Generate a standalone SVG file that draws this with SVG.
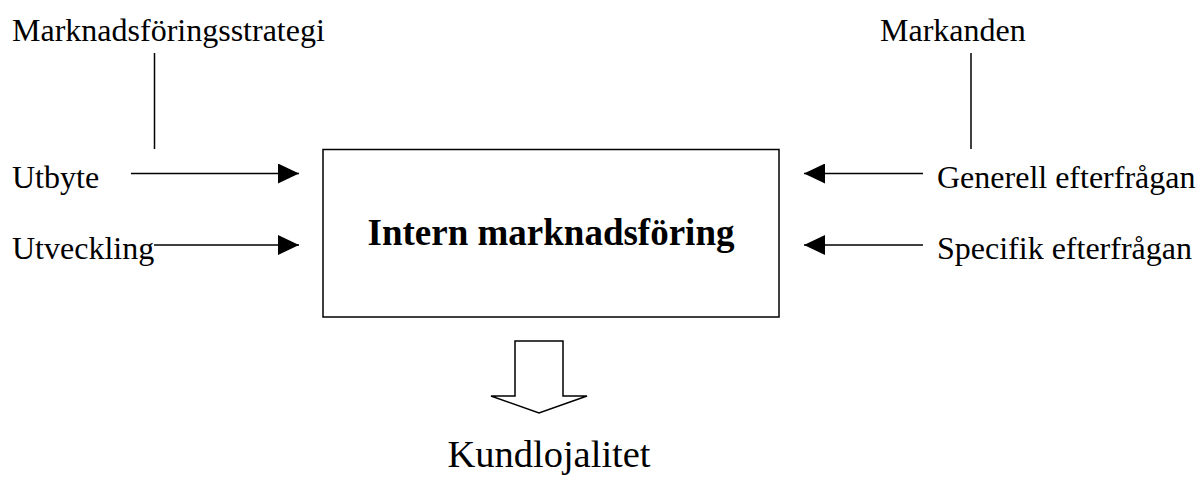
<svg xmlns="http://www.w3.org/2000/svg" width="1201" height="480" viewBox="0 0 1201 480">
<defs>
<marker id="ah" viewBox="0 0 21 20" refX="21" refY="10" markerWidth="21" markerHeight="20" markerUnits="userSpaceOnUse" orient="auto">
<path d="M0,0 L21,10 L0,20 Z" fill="#000"/>
</marker>
<style>
.t{font-family:"Liberation Serif","Times New Roman",serif;font-size:32px;fill:#000}
.ln{stroke:#000;stroke-width:1.5;fill:none}
</style>
</defs>
<rect width="1201" height="480" fill="#fff"/>
<g id="strategi"><text class="t" x="12" y="41">Marknadsföringsstrategi</text></g>
<g id="markanden"><text class="t" x="880" y="41">Markanden</text></g>
<g id="utbyte"><text class="t" x="12" y="188">Utbyte</text></g>
<g id="utveckling"><text class="t" x="12" y="259">Utveckling</text></g>
<g id="generell"><text class="t" x="937" y="188">Generell efterfrågan</text></g>
<g id="specifik"><text class="t" x="937" y="259">Specifik efterfrågan</text></g>
<g id="intern">
<rect class="ln" x="323" y="149.5" width="456" height="167.5"/>
<text x="551" y="245" text-anchor="middle" style="font-family:'Liberation Serif','Times New Roman',serif;font-size:37px;font-weight:bold">Intern marknadsföring</text>
</g>
<g id="kundlojalitet"><text x="549" y="467" text-anchor="middle" style="font-family:'Liberation Serif','Times New Roman',serif;font-size:38.5px">Kundlojalitet</text></g>
<g id="connectors">
<line class="ln" x1="154.5" y1="53" x2="154.5" y2="149"/>
<line class="ln" x1="971" y1="53" x2="971" y2="149"/>
<line class="ln" x1="131" y1="173.5" x2="299" y2="173.5" marker-end="url(#ah)"/>
<line class="ln" x1="154" y1="245" x2="299" y2="245" marker-end="url(#ah)"/>
<line class="ln" x1="923" y1="173.5" x2="804" y2="173.5" marker-end="url(#ah)"/>
<line class="ln" x1="923" y1="245" x2="804" y2="245" marker-end="url(#ah)"/>
<path class="ln" d="M515,341 L563,341 L563,396 L587,396 L539,413 L491,396 L515,396 Z"/>
</g>
</svg>
